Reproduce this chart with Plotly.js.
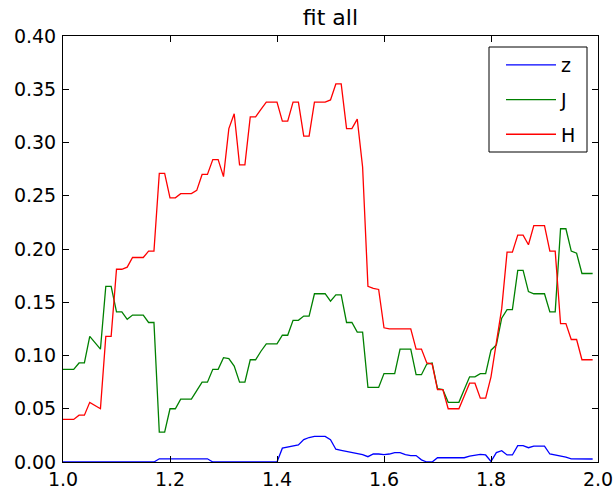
<!DOCTYPE html>
<html>
<head>
<meta charset="utf-8">
<script src="https://cdn.plot.ly/plotly-3.0.1.min.js"></script>
<style>html,body{margin:0;padding:0;background:#fff;}#chart{width:613px;height:489px;}</style>
</head>
<body>
<div id="chart"></div>
<script>
var wavelength = [1.00,1.01,1.02,1.03,1.04,1.05,1.06,1.07,1.08,1.09,
1.10,1.11,1.12,1.13,1.14,1.15,1.16,1.17,1.18,1.19,
1.20,1.21,1.22,1.23,1.24,1.25,1.26,1.27,1.28,1.29,
1.30,1.31,1.32,1.33,1.34,1.35,1.36,1.37,1.38,1.39,
1.40,1.41,1.42,1.43,1.44,1.45,1.46,1.47,1.48,1.49,
1.50,1.51,1.52,1.53,1.54,1.55,1.56,1.57,1.58,1.59,
1.60,1.61,1.62,1.63,1.64,1.65,1.66,1.67,1.68,1.69,
1.70,1.71,1.72,1.73,1.74,1.75,1.76,1.77,1.78,1.79,
1.80,1.81,1.82,1.83,1.84,1.85,1.86,1.87,1.88,1.89,
1.90,1.91,1.92,1.93,1.94,1.95,1.96,1.97,1.98,1.99];

var zVals = [0,0,0,0,0,0,0,0,0,0,
0,0,0,0,0,0,0,0,0.003,0.003,
0.003,0.003,0.003,0.003,0.003,0.003,0.003,0.003,0,0,
0,0,0,0,0,0,0,0,0,0,
0,0.013,0.014,0.015,0.016,0.021,0.023,0.024,0.024,0.024,
0.021,0.012,0.011,0.010,0.009,0.008,0.007,0.005,0.0075,0.0075,
0.007,0.0075,0.0088,0.0088,0.007,0.006,0.006,0.002,0,0,
0.004,0.004,0.004,0.004,0.004,0.004,0.0056,0.0066,0.0072,0.0066,
0.0005,0.0088,0.0106,0.0066,0.0066,0.0153,0.0153,0.0134,0.015,0.015,
0.015,0.0075,0.0066,0.0056,0.0045,0.003,0.0028,0.0028,0.0028,0.0028];

var jVals = [0.087,0.087,0.087,0.093,0.093,0.118,0.112,0.106,0.165,0.165,
0.141,0.141,0.134,0.138,0.138,0.138,0.131,0.131,0.028,0.028,
0.050,0.050,0.059,0.059,0.059,0.067,0.075,0.075,0.087,0.087,
0.098,0.097,0.090,0.075,0.075,0.096,0.096,0.104,0.111,0.111,
0.111,0.119,0.119,0.133,0.133,0.137,0.137,0.158,0.158,0.158,
0.151,0.157,0.157,0.131,0.131,0.122,0.122,0.070,0.070,0.070,
0.083,0.083,0.083,0.106,0.106,0.106,0.082,0.082,0.092,0.093,
0.069,0.068,0.056,0.056,0.056,0.068,0.080,0.080,0.083,0.083,
0.105,0.110,0.135,0.143,0.143,0.180,0.180,0.160,0.158,0.158,
0.158,0.141,0.141,0.219,0.219,0.198,0.196,0.177,0.177,0.177];

var hVals = [0.040,0.040,0.040,0.044,0.044,0.056,0.053,0.050,0.118,0.118,
0.181,0.181,0.183,0.192,0.192,0.192,0.198,0.198,0.271,0.271,
0.248,0.248,0.252,0.252,0.252,0.255,0.270,0.270,0.284,0.284,
0.268,0.313,0.327,0.279,0.279,0.324,0.324,0.331,0.338,0.338,
0.338,0.320,0.320,0.338,0.338,0.306,0.306,0.338,0.338,0.338,
0.340,0.355,0.355,0.313,0.313,0.322,0.277,0.165,0.163,0.162,
0.126,0.125,0.125,0.125,0.125,0.125,0.106,0.106,0.093,0.092,
0.068,0.068,0.050,0.050,0.050,0.062,0.074,0.074,0.060,0.060,
0.080,0.112,0.144,0.197,0.197,0.213,0.213,0.204,0.222,0.222,
0.222,0.198,0.198,0.130,0.130,0.115,0.115,0.096,0.096,0.096];

var seriesNames = ['z','J','H'];
var seriesColors = ['#0000ff','#008000','#ff0000'];
var seriesData = [zVals, jVals, hVals];
var xTicks = [1.0,1.2,1.4,1.6,1.8,2.0];
var yTicks = [0.00,0.05,0.10,0.15,0.20,0.25,0.30,0.35,0.40];

var traces = seriesData.map(function(v,i){
  return {x: wavelength, y: v, type:'scatter', mode:'lines', name: seriesNames[i],
    legendgroup: 'g' + i,
    line:{color: seriesColors[i], width:1.3}};
});

// plot-area pixel geometry helpers (paper fractions)
var PL = 63, PW = 535, PB = 462, PH = 426;
function px(x){ return (x - PL) / PW; }
function py(y){ return (PB - y) / PH; }

var axisFont = {family:'DejaVu Sans, sans-serif', size:19, color:'#000'};
var layout = {
  width:613, height:489,
  margin:{l:63, r:15, t:36, b:27, pad:0},
  paper_bgcolor:'#fff', plot_bgcolor:'#fff',
  title:{text:'fit all', font:{family:'DejaVu Sans, sans-serif', size:22, color:'#000'},
    x:0.539, xanchor:'center', y:1-17/489, yanchor:'middle', yref:'container'},
  xaxis:{range:[1,2], tickvals:xTicks, ticktext:xTicks.map(function(t){return t.toFixed(1);}),
    ticks:'inside', ticklen:6, tickcolor:'#000', tickwidth:1, showline:true, linecolor:'#000', linewidth:1,
    mirror:'ticks', showgrid:false, zeroline:false, tickfont:axisFont, ticklabeloverflow:'allow'},
  yaxis:{range:[0,0.4], tickvals:yTicks, ticktext:yTicks.map(function(t){return t.toFixed(2);}),
    ticks:'inside', ticklen:6, tickcolor:'#000', tickwidth:1, showline:true, linecolor:'#000', linewidth:1,
    mirror:'ticks', showgrid:false, zeroline:false, tickfont:axisFont, ticklabelstandoff:2},
  shapes:[{type:'rect', xref:'paper', yref:'paper', x0:px(489), x1:px(587), y0:py(152), y1:py(47),
    line:{color:'#000', width:1}, fillcolor:'#fff', layer:'above'}],
  legend:{x:px(501), y:py(46), xanchor:'left', yanchor:'top',
    bgcolor:'rgba(0,0,0,0)', borderwidth:0, tracegroupgap:7,
    font:{family:'DejaVu Sans, sans-serif', size:19, color:'#000'}, itemwidth:50},
  showlegend:true
};
Plotly.newPlot('chart', traces, layout, {displayModeBar:false, staticPlot:true});
</script>
</body>
</html>
